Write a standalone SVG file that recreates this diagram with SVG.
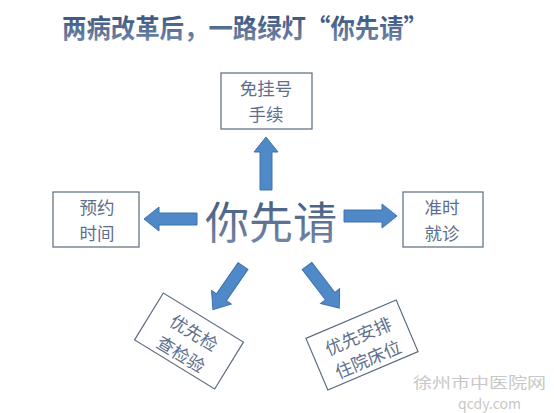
<svg xmlns="http://www.w3.org/2000/svg" width="554" height="413" viewBox="0 0 554 413">
  <style>
    .box { fill: #ffffff; stroke: #5b6b80; stroke-width: 1.2; }
    .lbl { font-family: "Noto Sans CJK SC", "Noto Sans", sans-serif; font-size: 17.5px; fill: #5d6f8c; text-anchor: middle; }
    .arrow { fill: #4f89c8; stroke: #3f73ad; stroke-width: 1; }
    .wm { font-family: "Noto Sans CJK SC", "Liberation Sans", sans-serif; fill: #c8c8c8; }
  </style>
  <defs>
    <linearGradient id="tg" x1="0" y1="0" x2="0" y2="1">
      <stop offset="0" stop-color="#2a4673"/>
      <stop offset="1" stop-color="#7a8fae"/>
    </linearGradient>
    <linearGradient id="cg" x1="0" y1="0" x2="0" y2="1">
      <stop offset="0" stop-color="#3b5277"/>
      <stop offset="1" stop-color="#7c8eaa"/>
    </linearGradient>
    <path id="arr" d="M0,-6 H38 V-12 L53,0 L38,12 V6 H0 Z"/>
  </defs>
  <rect width="554" height="413" fill="#ffffff"/>

  <g id="title">
    <text x="62" y="38" font-family="Noto Sans CJK SC, sans-serif" font-size="26" font-weight="bold" fill="url(#tg)" textLength="366" lengthAdjust="spacingAndGlyphs">两病改革后，一路绿灯“你先请”</text>
  </g>

  <g id="connectors">
    <use href="#arr" class="arrow" transform="translate(266,190) rotate(-90)"/>
    <use href="#arr" class="arrow" transform="translate(197,219) rotate(180)"/>
    <use href="#arr" class="arrow" transform="translate(344,216)"/>
    <use href="#arr" class="arrow" transform="translate(243,266) rotate(124.6)"/>
    <use href="#arr" class="arrow" transform="translate(307,266) rotate(52.5)"/>
  </g>

  <g id="center">
    <text x="271" y="239" font-family="Noto Sans CJK SC, sans-serif" font-size="44" fill="url(#cg)" text-anchor="middle">你先请</text>
  </g>

  <g id="node-top">
    <rect class="box" x="221" y="73" width="91" height="56"/>
    <text class="lbl" x="266" y="95">免挂号</text>
    <text class="lbl" x="266" y="121">手续</text>
  </g>

  <g id="node-left">
    <rect class="box" x="53" y="192" width="86" height="55"/>
    <text class="lbl" x="97" y="214">预约</text>
    <text class="lbl" x="97" y="240">时间</text>
  </g>

  <g id="node-right">
    <rect class="box" x="403" y="192" width="80" height="55"/>
    <text class="lbl" x="442" y="214">准时</text>
    <text class="lbl" x="442" y="240">就诊</text>
  </g>

  <g id="node-bottom-left" transform="translate(189,341) rotate(31.5)">
    <rect class="box" x="-47" y="-27.5" width="94" height="55"/>
    <text class="lbl" x="0" y="-3">优先检</text>
    <text class="lbl" x="0" y="22">查检验</text>
  </g>

  <g id="node-bottom-right" transform="translate(362,345) rotate(-23)">
    <rect class="box" x="-49" y="-28" width="98" height="56"/>
    <text class="lbl" x="0" y="-3">优先安排</text>
    <text class="lbl" x="0" y="22">住院床位</text>
  </g>

  <g id="watermark">
    <text class="wm" x="413" y="388" font-size="15" textLength="133" lengthAdjust="spacingAndGlyphs">徐州市中医院网</text>
    <text class="wm" x="458" y="409" font-size="14" font-family="Liberation Sans, sans-serif">qcdy.com</text>
  </g>
</svg>
